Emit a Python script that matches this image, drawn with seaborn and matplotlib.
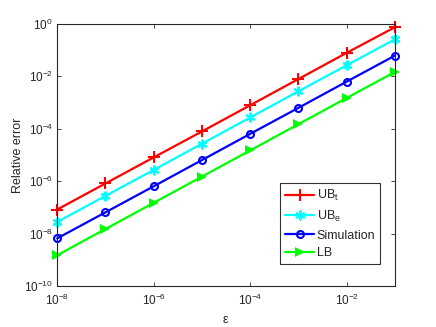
import matplotlib
matplotlib.use('Agg')
import matplotlib.pyplot as plt
import seaborn as sns
import pandas as pd
from matplotlib.ticker import NullLocator

# data (log-log, slope ~1)
eps = [1e-8, 1e-7, 1e-6, 1e-5, 1e-4, 1e-3, 1e-2, 1e-1]
ub_t = [8.3e-8, 8.2e-7, 8.1e-6, 7.9e-5, 7.9e-4, 7.9e-3, 7.9e-2, 0.75]
ub_e = [2.8e-8, 2.75e-7, 2.7e-6, 2.7e-5, 2.7e-4, 2.7e-3, 2.65e-2, 0.26]
sim = [6.6e-9, 6.5e-8, 6.4e-7, 6.4e-6, 6.4e-5, 6.3e-4, 6.3e-3, 0.062]
lb = [1.5e-9, 1.5e-8, 1.5e-7, 1.5e-6, 1.5e-5, 1.5e-4, 1.5e-3, 0.0148]

labels = ['UB$_t$', 'UB$_e$', 'Simulation', 'LB']
colors = ['#ff0000', '#00ffff', '#0000ff', '#00ff00']
xticks = [1e-8, 1e-6, 1e-4, 1e-2]
yticks = [1e-10, 1e-8, 1e-6, 1e-4, 1e-2, 1e0]

sns.set_style('ticks')
plt.rcParams['font.family'] = ['Liberation Sans', 'DejaVu Sans']
plt.rcParams['mathtext.default'] = 'regular'
plt.rcParams['font.size'] = 8

df = pd.DataFrame({'eps': eps * 4,
                   'err': ub_t + ub_e + sim + lb,
                   'series': [l for l in labels for _ in eps]})

fig = plt.figure(figsize=(4.36, 3.27), dpi=100)
ax = fig.add_axes([0.131, 0.125, 0.775, 0.802])

sns.lineplot(data=df, x='eps', y='err', hue='series', hue_order=labels,
             palette=colors, linewidth=1.6, ax=ax, legend=False)

# matlab-style markers
marker_styles = [
    dict(marker='+', markersize=8, markeredgewidth=1.5),
    dict(marker=(6, 2, 0), markersize=7, markeredgewidth=1.5),
    dict(marker='o', markersize=5, markerfacecolor='none', markeredgewidth=1.5),
    dict(marker='>', markersize=7.5, markeredgewidth=0),
]
for line, lab, col, ms in zip(ax.lines, labels, colors, marker_styles):
    line.set_linestyle('-')
    line.set_label(lab)
    line.set_marker(ms['marker'])
    line.set_markersize(ms['markersize'])
    line.set_markeredgewidth(ms['markeredgewidth'])
    line.set_markeredgecolor(col)
    line.set_markerfacecolor(ms.get('markerfacecolor', col))
    line.set_clip_on(False)

ax.set_xscale('log')
ax.set_yscale('log')
ax.set_xlim(1e-8, 1e-1)
ax.set_ylim(1e-10, 1e0)
ax.set_xticks(xticks)
ax.set_yticks(yticks)
ax.xaxis.set_minor_locator(NullLocator())
ax.yaxis.set_minor_locator(NullLocator())
ax.tick_params(direction='in', top=True, right=True, length=3,
               width=0.6, labelsize=8.5, colors='#262626', pad=3)
ax.tick_params(axis='x', pad=5)
for s in ax.spines.values():
    s.set_linewidth(0.8)
    s.set_color('#262626')

ax.set_xlabel(r'$\epsilon$', fontsize=9)
ax.set_ylabel('Relative error', fontsize=9)
ax.yaxis.set_label_coords(-0.098, 0.5)
ax.xaxis.set_label_coords(0.5, -0.105)

leg = ax.legend(handles=ax.lines[:4], loc='lower right',
                bbox_to_anchor=(0.975, 0.06),
                frameon=True, fancybox=False, fontsize=9,
                handlelength=2.3, handletextpad=0.2, labelspacing=0.45,
                borderpad=0.4)
leg.get_frame().set_edgecolor('black')
leg.get_frame().set_linewidth(0.8)

fig.savefig('out.png', dpi=100)
